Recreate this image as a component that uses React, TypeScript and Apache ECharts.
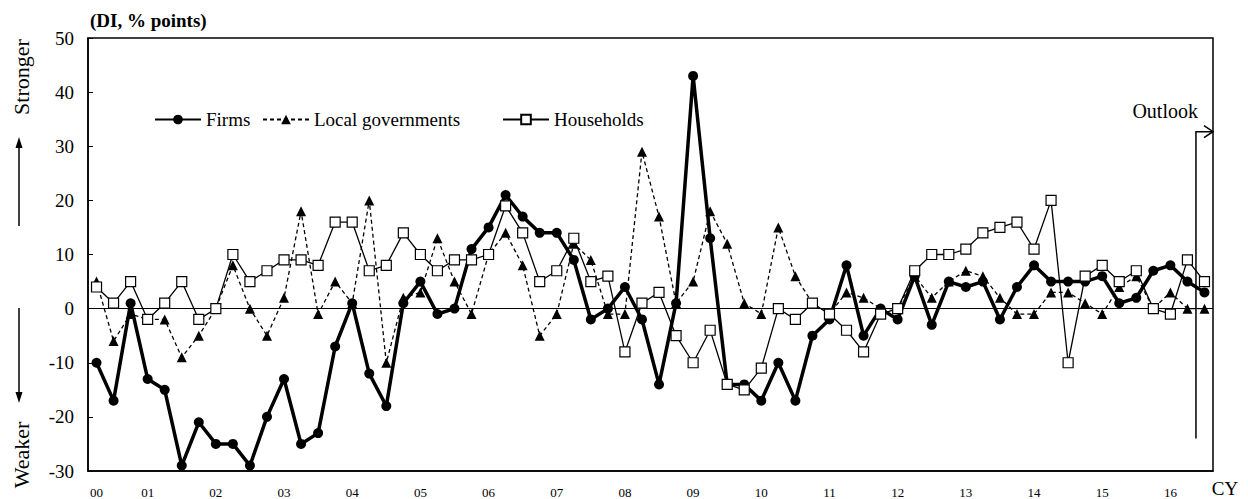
import React, { useEffect, useRef } from "react";
import * as echarts from "echarts";

// Quarterly categories: 2000 Q2 .. 2016 Q3 (last point = outlook)
const startYear = 2000;
const startQuarterOffset = 1; // Q2
const pointCount = 66;
const categories: string[] = [];
for (let i = 0; i < pointCount; i++) {
  const k = i + startQuarterOffset;
  const y = startYear + Math.floor(k / 4);
  const q = (k % 4) + 1;
  categories.push(`${String(y % 100).padStart(2, "0")}/Q${q}`);
}

const firms = [
  -10, -17, 1, -13, -15, -29, -21, -25, -25, -29, -20, -13, -25, -23, -7, 1,
  -12, -18, 1, 5, -1, 0, 11, 15, 21, 17, 14, 14, 9, -2, 0, 4,
  -2, -14, 1, 43, 13, -14, -14, -17, -10, -17, -5, -2, 8, -5, 0, -2,
  6, -3, 5, 4, 5, -2, 4, 8, 5, 5, 5, 6, 1, 2, 7, 8,
  5, 3,
];

const localGovernments = [
  5, -6, -1, -2, -2, -9, -5, 0, 8, 0, -5, 2, 18, -1, 5, 1,
  20, -10, 2, 3, 13, 5, -1, 10, 14, 8, -5, -1, 12, 9, -1, -1,
  29, 17, 1, 5, 18, 12, 1, -1, 15, 6, 1, -1, 3, 2, 0, 0,
  6, 2, 5, 7, 6, 2, -1, -1, 3, 3, 1, -1, 4, 6, 0, 3,
  0, 0,
];

const households = [
  4, 1, 5, -2, 1, 5, -2, 0, 10, 5, 7, 9, 9, 8, 16, 16,
  7, 8, 14, 10, 7, 9, 9, 10, 19, 14, 5, 7, 13, 5, 6, -8,
  1, 3, -5, -10, -4, -14, -15, -11, 0, -2, 1, -1, -4, -8, -1, 0,
  7, 10, 10, 11, 14, 15, 16, 11, 20, -10, 6, 8, 5, 7, 0, -1,
  9, 5,
];

const seriesNames = ["Firms", "Local governments", "Households"];
const yMin = -30;
const yMax = 50;
const yInterval = 10;

export default function App() {
  const ref = useRef<HTMLDivElement>(null);

  useEffect(() => {
    if (!ref.current) return;
    const chart = echarts.init(ref.current, null, { renderer: "svg" });
    const font = "'Liberation Serif', 'Times New Roman', serif";
    const legendBase = {
      top: 105,
      itemWidth: 46,
      itemHeight: 12,
      itemGap: 10,
      textStyle: { fontFamily: font, fontSize: 19, color: "#000" },
      selectedMode: false,
    };

    chart.setOption({
      animation: false,
      backgroundColor: "#fff",
      grid: {
        left: 88,
        top: 38,
        width: 1125,
        height: 433,
        show: true,
        borderColor: "#000",
        borderWidth: 1.5,
        backgroundColor: "transparent",
      },
      legend: [
        { ...legendBase, left: 149, data: [seriesNames[0]] },
        { ...legendBase, left: 257, data: [seriesNames[1]] },
        { ...legendBase, left: 497, data: [seriesNames[2]] },
      ],
      xAxis: {
        type: "category",
        data: categories,
        boundaryGap: true,
        axisLine: { onZero: false, lineStyle: { color: "#000", width: 1.5 } },
        axisTick: { show: false },
        splitLine: { show: false },
        axisLabel: {
          interval: (index: number) => index === 0 || (index + 1) % 4 === 0,
          formatter: (v: string) => v.slice(0, 2),
          fontFamily: font,
          fontSize: 13,
          color: "#000",
          margin: 15,
        },
      },
      yAxis: {
        type: "value",
        min: yMin,
        max: yMax,
        interval: yInterval,
        axisLine: { show: true, lineStyle: { color: "#000", width: 1.5 } },
        axisTick: { show: true, inside: true, length: 5, lineStyle: { color: "#000" } },
        splitLine: { show: false },
        axisLabel: {
          fontFamily: font,
          fontSize: 19,
          color: "#000",
          margin: 14,
        },
      },
      series: [
        {
          name: seriesNames[0],
          type: "line",
          data: firms,
          symbol: "circle",
          symbolSize: 10,
          lineStyle: { color: "#000", width: 3.5 },
          itemStyle: { color: "#000" },
          z: 3,
          markLine: {
            silent: true,
            symbol: "none",
            label: { show: false },
            lineStyle: { color: "#000", width: 1, type: "solid" },
            data: [{ yAxis: 0 }],
          },
        },
        {
          name: seriesNames[1],
          type: "line",
          data: localGovernments,
          symbol: "triangle",
          symbolSize: 10,
          lineStyle: { color: "#000", width: 1.3, type: [4, 3] },
          itemStyle: { color: "#000" },
          z: 4,
        },
        {
          name: seriesNames[2],
          type: "line",
          data: households,
          symbol: "rect",
          symbolSize: 10,
          lineStyle: { color: "#000", width: 1.3 },
          itemStyle: { color: "#fff", borderColor: "#000", borderWidth: 1.2 },
          z: 5,
        },
      ],
    });

    const xA = chart.convertToPixel({ xAxisIndex: 0 }, categories[pointCount - 2]) as number;
    const xB = chart.convertToPixel({ xAxisIndex: 0 }, categories[pointCount - 1]) as number;
    const xo = (xA + xB) / 2;
    const xr = 88 + 1125;
    const yTop = chart.convertToPixel({ yAxisIndex: 0 }, 32.7) as number;
    const yBot = chart.convertToPixel({ yAxisIndex: 0 }, -24) as number;
    const yOutlook = chart.convertToPixel({ yAxisIndex: 0 }, 36.5) as number;

    chart.setOption({
      graphic: [
        {
          type: "text",
          x: 90,
          y: 20,
          style: {
            text: "(DI, % points)",
            font: `bold 19px ${font}`,
            fill: "#000",
            textAlign: "left",
            textVerticalAlign: "middle",
          },
        },
        {
          type: "text",
          x: 21,
          y: 77,
          rotation: Math.PI / 2,
          style: {
            text: "Stronger",
            font: `22px ${font}`,
            fill: "#000",
            textAlign: "center",
            textVerticalAlign: "middle",
          },
        },
        {
          type: "text",
          x: 21,
          y: 455,
          rotation: Math.PI / 2,
          style: {
            text: "Weaker",
            font: `22px ${font}`,
            fill: "#000",
            textAlign: "center",
            textVerticalAlign: "middle",
          },
        },
        { type: "line", shape: { x1: 19, y1: 226, x2: 19, y2: 146 }, style: { stroke: "#000", lineWidth: 1.5 } },
        { type: "polygon", shape: { points: [[19, 137], [15.5, 148], [22.5, 148]] }, style: { fill: "#000" } },
        { type: "line", shape: { x1: 19, y1: 308, x2: 19, y2: 394 }, style: { stroke: "#000", lineWidth: 1.5 } },
        { type: "polygon", shape: { points: [[19, 403], [15.5, 392], [22.5, 392]] }, style: { fill: "#000" } },
        {
          type: "polyline",
          shape: { points: [[xo, yBot], [xo, yTop], [xr, yTop]] },
          style: { stroke: "#000", lineWidth: 1.5, fill: null },
          z: 10,
        },
        {
          type: "polyline",
          shape: { points: [[xr - 9, yTop - 6], [xr, yTop], [xr - 9, yTop + 6]] },
          style: { stroke: "#000", lineWidth: 1.5, fill: null },
          z: 10,
        },
        {
          type: "text",
          x: xo + 2,
          y: yOutlook,
          style: {
            text: "Outlook",
            font: `20px ${font}`,
            fill: "#000",
            textAlign: "right",
            textVerticalAlign: "middle",
          },
        },
        {
          type: "text",
          x: 1225,
          y: 488,
          style: {
            text: "CY",
            font: `19px ${font}`,
            fill: "#000",
            textAlign: "center",
            textVerticalAlign: "middle",
          },
        },
      ],
    });

    return () => chart.dispose();
  }, []);

  return (
    <div
      ref={ref}
      style={{ position: "fixed", left: 0, top: 0, width: 1248, height: 499, background: "#fff" }}
    />
  );
}
